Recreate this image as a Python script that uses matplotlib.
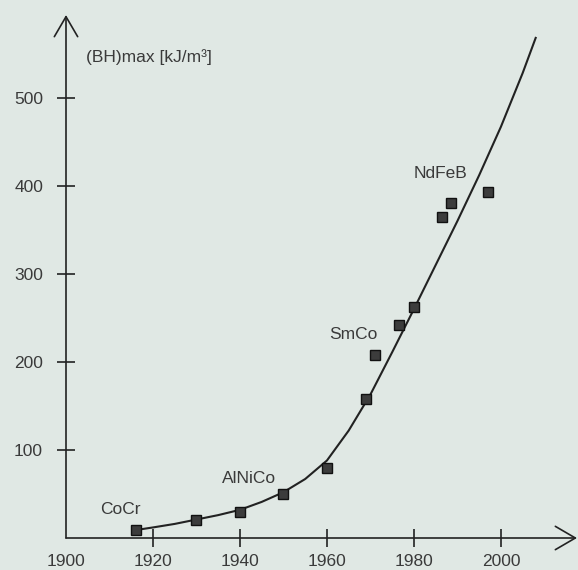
import matplotlib
matplotlib.use("Agg")
import matplotlib.pyplot as plt

# ---- data ----
point_years = [1916, 1930, 1940, 1950, 1960, 1969, 1971, 1976.5, 1980, 1986.5, 1988.5, 1997]
point_values = [9, 20, 30, 50, 80, 158, 208, 242, 262, 365, 380, 393]

curve_years = [1916, 1920, 1925, 1930, 1935, 1940, 1945, 1950, 1955, 1960, 1965,
               1970, 1975, 1980, 1985, 1990, 1995, 2000, 2005, 2008]
curve_values = [9, 12, 16, 21, 26, 32, 41, 52, 67, 88, 122,
                163, 211, 260, 310, 360, 412, 467, 528, 568]

material_labels = ["CoCr", "AlNiCo", "SmCo", "NdFeB"]
label_years = [1912.5, 1942, 1966, 1986]
label_values = [32, 68, 231, 414]

x_ticks = [1900, 1920, 1940, 1960, 1980, 2000]
y_ticks = [100, 200, 300, 400, 500]
y_title = "(BH)max [kJ/m³]"

# ---- styling ----
bg = "#e0e8e4"
ink = "#222222"
txt = "#3a3a3a"
plt.rcParams["font.family"] = ["Liberation Sans", "DejaVu Sans"]

fig = plt.figure(figsize=(5.78, 5.70), dpi=100, facecolor=bg)
ax = fig.add_axes([66 / 578, (570 - 538) / 570, 511 / 578, 523 / 570])
ax.set_facecolor(bg)
ax.set_xlim(1900, 2017.5)
ax.set_ylim(0, 594)

for s in ax.spines.values():
    s.set_visible(False)

# axes with open arrow heads
arrow_style = "->,head_length=0.72,head_width=0.42"
ax.annotate("", xy=(1, 0), xytext=(0, 0), xycoords="axes fraction",
            arrowprops=dict(arrowstyle=arrow_style, mutation_scale=20, lw=1.2,
                            color=ink, shrinkA=0, shrinkB=0))
ax.annotate("", xy=(0, 1), xytext=(0, 0), xycoords="axes fraction",
            arrowprops=dict(arrowstyle=arrow_style, mutation_scale=20, lw=1.2,
                            color=ink, shrinkA=0, shrinkB=0))

ax.set_xticks(x_ticks)
ax.set_xticklabels([str(v) for v in x_ticks])
ax.set_yticks(y_ticks)
ax.set_yticklabels([str(v) for v in y_ticks])
ax.tick_params(axis="both", direction="inout", length=13, width=1.2, color=ink,
               labelsize=12.5, labelcolor=txt)
ax.tick_params(axis="y", pad=10)
ax.tick_params(axis="x", pad=5)
ax.xaxis.get_major_ticks()[0].tick1line.set_visible(False)

# curve and data points
ax.plot(curve_years, curve_values, color=ink, lw=1.5, zorder=3)
ax.plot(point_years, point_values, linestyle="none", marker="s", markersize=6.5,
        markerfacecolor="#3c3c3c", markeredgecolor="#111111", markeredgewidth=1.0,
        zorder=4)

for name, xv, yv in zip(material_labels, label_years, label_values):
    ax.text(xv, yv, name, ha="center", va="center", fontsize=12.5, color=txt)

ax.text(1904.5, 546, y_title, ha="left", va="center", fontsize=12.5, color=txt)

fig.savefig("out.png", dpi=100, facecolor=bg)
